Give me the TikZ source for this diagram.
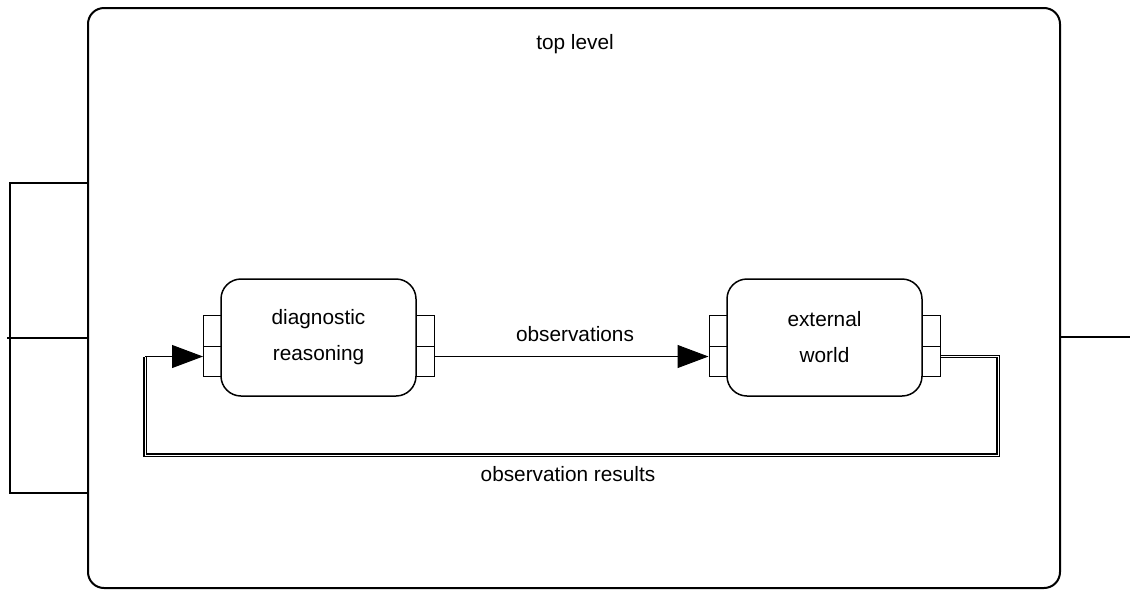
\documentclass[tikz,border=0pt]{standalone}
\usepackage{fontspec}
\setmainfont{Liberation Sans}
\usetikzlibrary{arrows.meta}
\begin{document}
\begin{tikzpicture}[x=1pt,y=-1pt,
  every node/.style={font=\fontsize{20.8}{36}\selectfont},
  frame/.style={draw,line width=2pt,rounded corners=16pt,minimum width=972pt,minimum height=580pt,inner sep=0},
  tab/.style={draw,line width=1.3pt,minimum width=78pt,minimum height=310pt,inner sep=0},
  block/.style={draw,line width=1.5pt,rounded corners=20pt,minimum width=195pt,minimum height=117pt,align=center,inner sep=0},
  port/.style={draw,line width=1pt,minimum width=18pt,minimum height=30.5pt,inner sep=0},
  flow/.style={line width=1pt,-{Triangle[length=31pt,width=23pt]}},
  feedback/.style={double,line width=1.3pt,double distance=1pt},
  wire/.style={line width=1.2pt}]
\useasboundingbox (0,0) rectangle (1130,590);

% enclosing level with its interface
\node[frame] (top) at (574,298) {};
\node (title) at (575,44) {top level};
\node[tab] (ltab) at (49,338) {};
\draw[wire] ([xshift=-2pt]ltab.west) -- (ltab.east);
\coordinate (rend) at (1130,337);
\draw[wire] (rend -| top.east) -- (rend);

% diagnostic reasoning with its ports
\node[block] (diag) at (318.5,337.5) {diagnostic\\reasoning};
\node[port] (dl1) at (212.5,331) {};
\node[port] (dl2) at (212.5,361.5) {};
\node[port] (dr1) at (425,331) {};
\node[port] (dr2) at (425,361.5) {};

% external world with its ports
\node[block] (ext) at (824.5,337.5) {external\\world};
\node[port] (el1) at (718,331) {};
\node[port] (el2) at (718,361.5) {};
\node[port] (er1) at (931,331) {};
\node[port] (er2) at (931,361.5) {};

% observations
\draw[flow] ([yshift=5pt]dr2.east) -- ([yshift=5pt]el2.west);
\node (obs) at (575,334) {observations};

% observation results loop back
\coordinate (fbr) at (998,455);
\coordinate (fbl) at (145,455);
\coordinate (fbin) at (145,356.5);
\draw[feedback] ([yshift=5pt]er2.east) -| (fbr) -- (fbl) -- (fbin);
\draw[flow] (fbin) -- ([yshift=5pt]dl2.west);
\node (res) at (568,474) {observation results};
\end{tikzpicture}
\end{document}
